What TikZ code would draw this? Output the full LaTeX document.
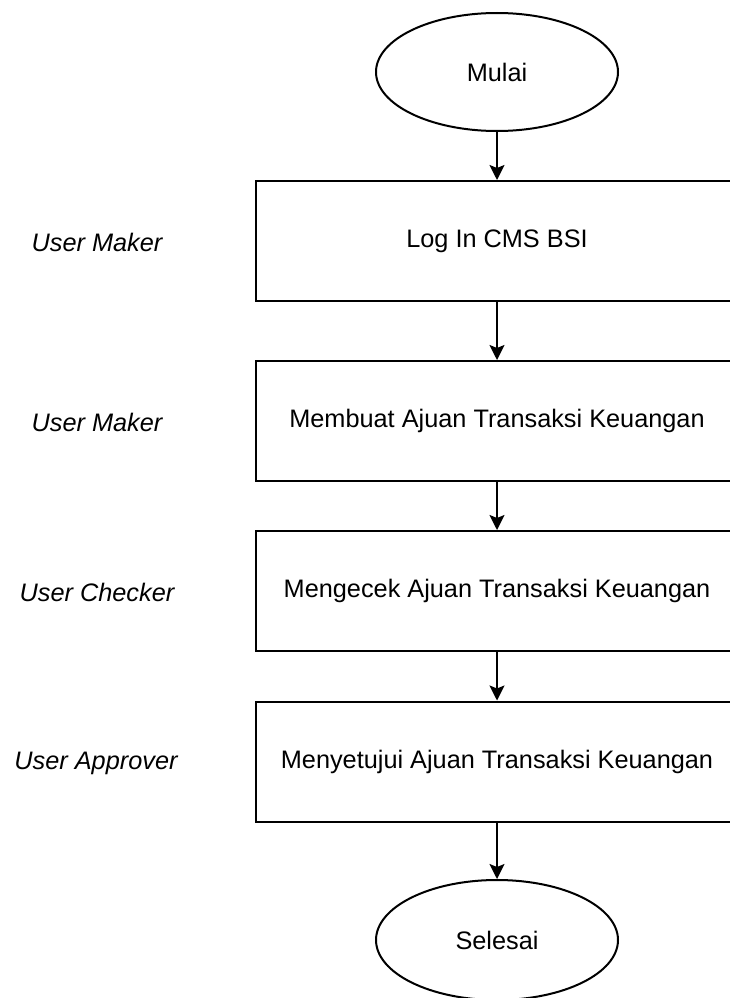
\documentclass[tikz,border=0pt]{standalone}
\usepackage{fontspec}
\setmainfont{Liberation Sans}
\usetikzlibrary{shapes.geometric,arrows.meta}
\begin{document}
\begin{tikzpicture}[x=1pt,y=-1pt,
  every node/.style={font=\fontsize{25.3}{30}\selectfont, text=black},
  terminal/.style={draw=black, line width=2pt, ellipse, minimum width=242pt, minimum height=118pt, inner sep=0pt},
  stepbox/.style={draw=black, line width=2pt, rectangle, minimum width=482pt, minimum height=120pt, inner sep=0pt},
  role/.style={font=\fontsize{25.3}{30}\selectfont\itshape},
  flow/.style={draw=black, line width=2pt, -{Stealth[length=15pt,width=15pt,inset=3pt]}}
]
\useasboundingbox (0,0) rectangle (729,998);
\node[terminal] (start) at (497,72) {Mulai};
\node[stepbox] (s1) at (497,241) {Log In CMS BSI};
\node[stepbox] (s2) at (497,421) {Membuat Ajuan Transaksi Keuangan};
\node[stepbox] (s3) at (497,591) {Mengecek Ajuan Transaksi Keuangan};
\node[stepbox] (s4) at (497,761.5) {Menyetujui Ajuan Transaksi Keuangan};
\node[terminal, minimum height=120pt] (end) at (497,940) {Selesai};
\node[role] (r1) at (97,242) {User Maker};
\node[role] (r2) at (97,422) {User Maker};
\node[role] (r3) at (97,592) {User Checker};
\node[role] (r4) at (96,763) {User Approver};
\draw[flow] (start) -- (s1);
\draw[flow] (s1) -- (s2);
\draw[flow] (s2) -- (s3);
\draw[flow] (s3) -- (s4);
\draw[flow] (s4) -- (end);
\end{tikzpicture}
\end{document}
